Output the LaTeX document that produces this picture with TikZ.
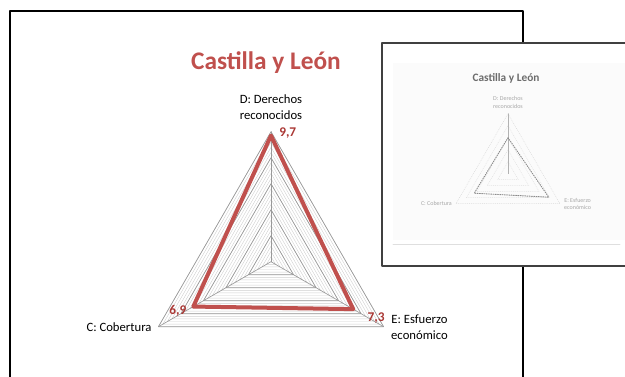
\documentclass[tikz,border=0pt]{standalone}
\usepackage{fontspec}
\setmainfont{Carlito}
\usetikzlibrary{positioning}

\definecolor{serie}{RGB}{192,80,77}
\definecolor{dato}{RGB}{170,55,52}

\tikzset{
  eje/.style = {font=\fontsize{9.5}{12}\selectfont, align=center, inner sep=0pt},
  valor/.style = {font=\bfseries\fontsize{10}{12}\selectfont, text=dato, inner sep=0pt},
  menor/.style = {draw=gray!38, line width=0.3pt},
  mayor/.style = {draw=gray!80, line width=0.5pt},
  linea/.style = {draw=serie, line width=3pt},
  mini/.style = {font=\fontsize{4.5}{5.5}\selectfont, text=gray!70, align=center, inner sep=0pt}
}

\begin{document}
\begin{tikzpicture}[x=0.75pt, y=0.75pt, line join = round, line cap = round]
\useasboundingbox (0,0) rectangle (625,376);
\clip (0,0) rectangle (625,376);

% diapositiva
\draw[line width=1.6pt] (10,-20) rectangle (523,365);

\node[font=\bfseries\fontsize{19}{22}\selectfont, text=serie] (titulo) at (266,313) {Castilla y León};

\begin{scope}[shift={(271,114.3)}]
\coordinate (O) at (0,0);
\coordinate (D) at (90:130);
\coordinate (E) at (-30:130);
\coordinate (C) at (210:130);

\foreach \k in {1,...,25}{
  \draw[menor] (90:\k*5.2) -- (-30:\k*5.2) -- (210:\k*5.2) -- cycle;
}
\foreach \k in {1,...,5}{
  \draw[mayor] (90:\k*26) -- (-30:\k*26) -- (210:\k*26) -- cycle;
}
\foreach \i in {D, E, C}{
  \draw[mayor] (O) -- (\i);
}

\coordinate (pD) at (90:9.7*13);
\coordinate (pE) at (-30:7.3*13);
\coordinate (pC) at (210:6.9*13);
\draw[linea] (pD) -- (pE) -- (pC) -- cycle;
\end{scope}

\node[eje, above=9pt of D] (labD) {D: Derechos\\reconocidos};
\node[eje, left=5pt of C] (labC) {C: Cobertura};
\node[eje, right=5.5pt of E] (labE) {E: Esfuerzo\\económico};

\node[valor, right=6pt of pD, yshift=2pt] (v97) {9,7};
\node[valor, left=5pt of pC, yshift=-3pt] (v69) {6,9};
\node[valor, above left=2pt and -1pt of E] (v73) {7,3};

% miniatura
\draw[fill=white, draw=gray!50!black, line width=1.5pt] (382,110) rectangle (640,333);
\fill[gray!3] (393,136) rectangle (632,313);
\draw[gray!25, line width=0.5pt] (393,132) -- (620,132);

\node[font=\bfseries\fontsize{8.5}{10}\selectfont, text=gray!85!black] (mtitulo) at (506,298) {Castilla y León};

\begin{scope}[shift={(508,202.3)}]
\coordinate (mO) at (0,0);
\coordinate (mD) at (90:60);
\coordinate (mE) at (-30:60);
\coordinate (mC) at (210:60);
\foreach \k in {12,24,36,48}{
  \draw[gray!25, densely dotted] (90:\k) -- (-30:\k) -- (210:\k) -- cycle;
}
\draw[gray!30, densely dotted] (mD) -- (mE) -- (mC) -- cycle;
\draw[gray!60, line width=0.4pt] (mO) -- (mD);
\draw[gray!90, densely dotted, line width=0.7pt] (90:36) -- (-30:47) -- (210:39) -- cycle;
\end{scope}

\node[mini, above=4pt of mD] (mlabD) {D: Derechos\\reconocidos};
\node[mini, left=3pt of mC] (mlabC) {C: Cobertura};
\node[mini, right=3pt of mE] (mlabE) {E: Esfuerzo\\económico};
\end{tikzpicture}
\end{document}
